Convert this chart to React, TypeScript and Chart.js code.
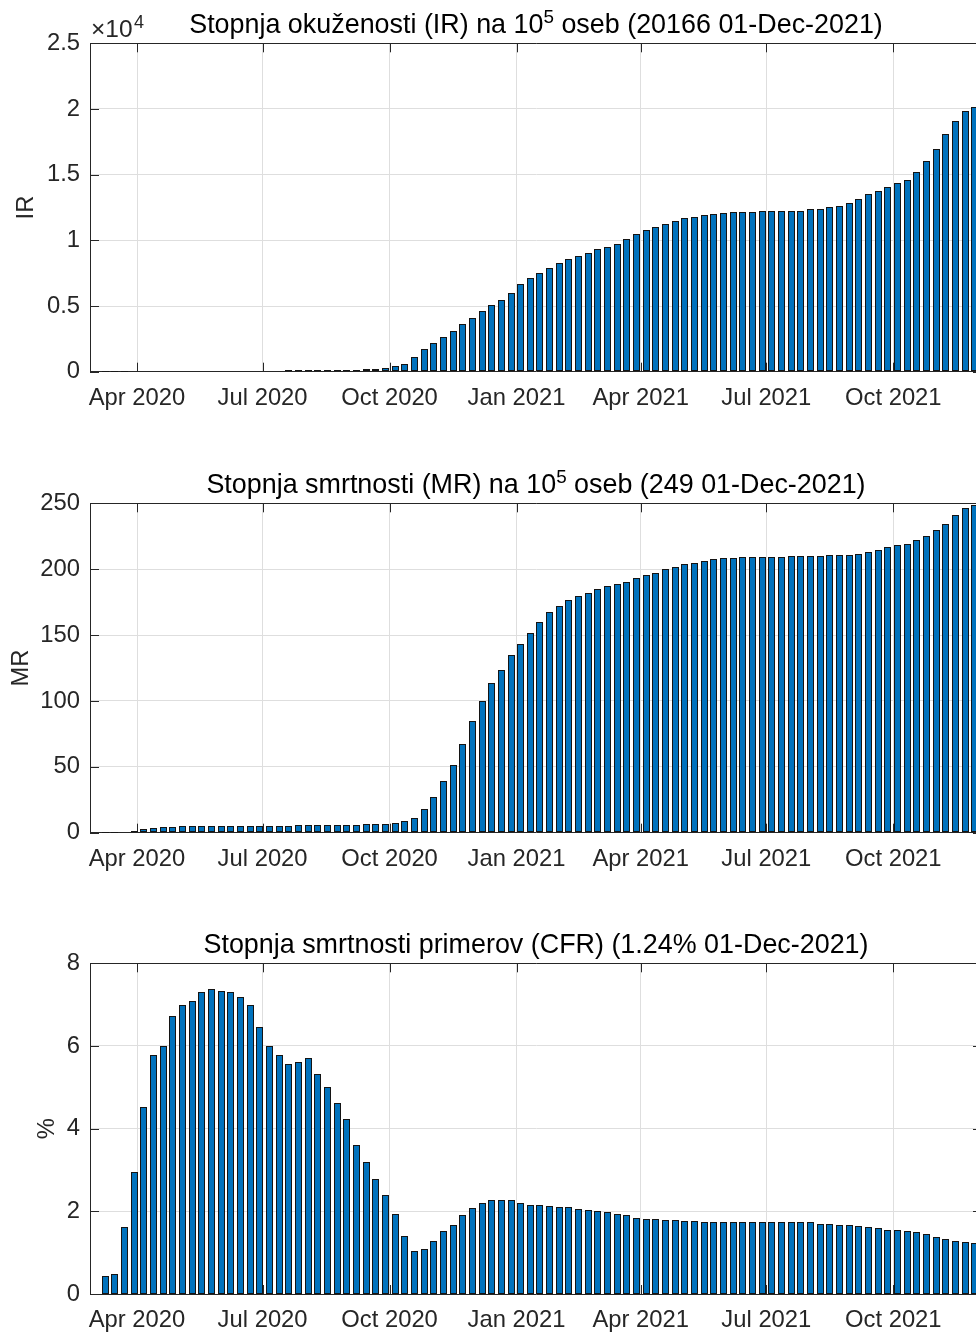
import React, { useEffect, useRef } from "react";
import { Chart, registerables } from "chart.js";

Chart.register(...registerables);

// ---------- data ----------
const weekDates = [
  "2020-03-09", "2020-03-16", "2020-03-23", "2020-03-30",
  "2020-04-06", "2020-04-13", "2020-04-20", "2020-04-27",
  "2020-05-04", "2020-05-11", "2020-05-18", "2020-05-25",
  "2020-06-01", "2020-06-08", "2020-06-15", "2020-06-22", "2020-06-29",
  "2020-07-06", "2020-07-13", "2020-07-20", "2020-07-27",
  "2020-08-03", "2020-08-10", "2020-08-17", "2020-08-24", "2020-08-31",
  "2020-09-07", "2020-09-14", "2020-09-21", "2020-09-28",
  "2020-10-05", "2020-10-12", "2020-10-19", "2020-10-26",
  "2020-11-02", "2020-11-09", "2020-11-16", "2020-11-23", "2020-11-30",
  "2020-12-07", "2020-12-14", "2020-12-21", "2020-12-28",
  "2021-01-04", "2021-01-11", "2021-01-18", "2021-01-25",
  "2021-02-01", "2021-02-08", "2021-02-15", "2021-02-22",
  "2021-03-01", "2021-03-08", "2021-03-15", "2021-03-22", "2021-03-29",
  "2021-04-05", "2021-04-12", "2021-04-19", "2021-04-26",
  "2021-05-03", "2021-05-10", "2021-05-17", "2021-05-24", "2021-05-31",
  "2021-06-07", "2021-06-14", "2021-06-21", "2021-06-28",
  "2021-07-05", "2021-07-12", "2021-07-19", "2021-07-26",
  "2021-08-02", "2021-08-09", "2021-08-16", "2021-08-23", "2021-08-30",
  "2021-09-06", "2021-09-13", "2021-09-20", "2021-09-27",
  "2021-10-04", "2021-10-11", "2021-10-18", "2021-10-25",
  "2021-11-01", "2021-11-08", "2021-11-15", "2021-11-22", "2021-11-29",
];

const irValues = [
  1, 6, 14, 22, 29, 34, 38, 40, 42, 43, 44, 44, 45, 45, 46, 48, 52, 57, 62,
  95, 100, 104, 108, 113, 120, 130, 150, 190, 230,
  300, 406, 584, 1142, 1700, 2183, 2640, 3122, 3604, 4061, 4594,
  5076, 5457, 6015, 6675, 7157, 7513, 7893, 8249, 8553, 8832,
  9010, 9314, 9492, 9746, 10127, 10482, 10787, 11040, 11243, 11446,
  11700, 11802, 11903, 12005, 12081, 12182, 12182, 12190, 12200, 12259,
  12259, 12265, 12270, 12360, 12365, 12538, 12639, 12842, 13121, 13502,
  13781, 14035, 14340, 14619, 15177, 16015, 16954, 18071, 19111, 19873,
  20166,
];

const mrValues = [
  0.01, 0.1, 0.4,
  1.3, 2.5, 3.3, 4.0, 4.1, 5.0,
  5.1, 5.1, 5.1, 5.2, 5.2, 5.2, 5.2, 5.2, 5.3, 5.3, 5.3,
  5.7, 5.7, 5.8, 5.8, 5.8, 5.9, 5.9,
  6.5, 6.6, 6.7,
  7.6, 8.6, 11.1, 17.7, 27.1, 39.2, 51.6, 67.3, 85.0, 100.2,
  113.3, 123.5, 134.6, 143.2, 151.5, 159.6, 167.2, 172.0, 176.6, 179.4,
  182.2, 185.2, 187.0, 188.7, 190.5, 193.5, 195.3, 197.1, 200.1, 201.9,
  203.7, 204.7, 206.4, 207.5, 208.2, 208.4, 209.2, 209.3, 209.4, 209.5,
  209.6, 210.0, 210.1, 210.2, 210.3, 210.4, 210.7, 210.9, 211.8, 212.8,
  214.5, 216.6, 218.3, 219.4, 222.1, 224.9, 229.7, 234.5, 240.9, 246.4,
  249,
];

const cfrValues = [
  0.43, 0.48, 1.62, 2.96, 4.53, 5.78, 5.99, 6.73, 7.0, 7.1,
  7.31, 7.39, 7.33, 7.31, 7.19, 7.0, 6.47, 5.99, 5.78, 5.57,
  5.61, 5.7, 5.31, 5.01, 4.62, 4.23, 3.6, 3.19, 2.77, 2.39,
  1.94, 1.41, 1.05, 1.08, 1.29, 1.52, 1.68, 1.92, 2.09, 2.19,
  2.27, 2.27, 2.27, 2.19, 2.15, 2.15, 2.12, 2.1, 2.1, 2.06,
  2.03, 2.0, 1.98, 1.94, 1.92, 1.85, 1.82, 1.82, 1.79, 1.79,
  1.77, 1.77, 1.73, 1.73, 1.73, 1.73, 1.73, 1.73, 1.73, 1.73,
  1.73, 1.73, 1.73, 1.73, 1.7, 1.7, 1.68, 1.68, 1.65, 1.61,
  1.59, 1.56, 1.56, 1.52, 1.5, 1.44, 1.38, 1.32, 1.29, 1.26,
  1.24,
];

const xTickDates = ["2020-04-01", "2020-07-01", "2020-10-01", "2021-01-01", "2021-04-01", "2021-07-01", "2021-10-01"];
const xTickLabels = ["Apr 2020", "Jul 2020", "Oct 2020", "Jan 2021", "Apr 2021", "Jul 2021", "Oct 2021"];

const irTicks = [0, 5000, 10000, 15000, 20000, 25000];
const irTickLabels = ["0", "0.5", "1", "1.5", "2", "2.5"];
const mrTicks = [0, 50, 100, 150, 200, 250];
const mrTickLabels = ["0", "50", "100", "150", "200", "250"];
const cfrTicks = [0, 2, 4, 6, 8];
const cfrTickLabels = ["0", "2", "4", "6", "8"];

// ---------- style ----------
const FONT = "'Liberation Sans', Arial, Helvetica, sans-serif";
const TEXT = "#262626";
const GRID = "#dedede";
const BAR = "#0072BD";
const EDGE = "#141414";
const TICK_SIZE = 23.8;
const TITLE_SIZE = 26.9;
const BAR_PX = 7;

const CANVAS_W = 1000;
const CANVAS_H = 460;

const dayNumber = (iso: string) =>
  (Date.parse(iso + "T00:00:00Z") - Date.parse("2020-01-01T00:00:00Z")) / 86400000;

const X_MIN = 56.94;
const X_MAX = 703.27;

type Panel = {
  values: number[];
  yTicks: number[];
  yTickLabels: string[];
  yLabel: string;
  yLabelX: number;
  titlePre: string;
  titleSup: string;
  titlePost: string;
  exponent: boolean;
  bottom: number;
  top: number;
};

const panels: Panel[] = [
  {
    values: irValues, yTicks: irTicks, yTickLabels: irTickLabels, yLabel: "IR", yLabelX: 33,
    titlePre: "Stopnja okuženosti (IR) na 10", titleSup: "5", titlePost: " oseb (20166 01-Dec-2021)",
    exponent: true, top: 0, bottom: 371.7,
  },
  {
    values: mrValues, yTicks: mrTicks, yTickLabels: mrTickLabels, yLabel: "MR", yLabelX: 28,
    titlePre: "Stopnja smrtnosti (MR) na 10", titleSup: "5", titlePost: " oseb (249 01-Dec-2021)",
    exponent: false, top: 460, bottom: 372.7,
  },
  {
    values: cfrValues, yTicks: cfrTicks, yTickLabels: cfrTickLabels, yLabel: "%", yLabelX: 54,
    titlePre: "Stopnja smrtnosti primerov (CFR) (1.24% 01-Dec-2021)", titleSup: "", titlePost: "",
    exponent: false, top: 920, bottom: 374,
  },
];

function PanelChart({ p }: { p: Panel }) {
  const ref = useRef<HTMLCanvasElement | null>(null);
  useEffect(() => {
    if (!ref.current) return;
    const frame = {
      id: "frame",
      afterDatasetsUpdate(chart: any) {
        // snap bars computed by the scales to whole device pixels (crisp edges)
        const meta = chart.getDatasetMeta(0);
        for (const el of meta.data) {
          const left = Math.round(el.x - BAR_PX / 2);
          el.x = left + BAR_PX / 2;
          el.width = BAR_PX;
          el.y = Math.round(el.y);
          el.base = Math.round(el.base);
        }
      },
      beforeDatasetsDraw(chart: any) {
        const { ctx, chartArea: a, scales } = chart;
        const x = scales.x, y = scales.y;
        ctx.save();
        ctx.strokeStyle = TEXT;
        ctx.lineWidth = 1;
        ctx.beginPath();
        for (const t of x.ticks) {
          const px = Math.round(x.getPixelForValue(t.value)) + 0.5;
          ctx.moveTo(px, a.bottom); ctx.lineTo(px, a.bottom - 9);
          ctx.moveTo(px, a.top); ctx.lineTo(px, a.top + 9);
        }
        for (const t of y.ticks) {
          const py = Math.round(y.getPixelForValue(t.value)) + 0.5;
          ctx.moveTo(a.left, py); ctx.lineTo(a.left + 9, py);
          ctx.moveTo(a.right, py); ctx.lineTo(a.right - 9, py);
        }
        const top = Math.round(a.top) + 0.5;
        const right = Math.round(a.right) + 0.5;
        ctx.moveTo(a.left, top); ctx.lineTo(right, top); ctx.lineTo(right, a.bottom);
        ctx.stroke();
        ctx.restore();
      },
      afterDraw(chart: any) {
        const { ctx, chartArea: a } = chart;
        ctx.save();
        // title
        ctx.fillStyle = "#000";
        ctx.textBaseline = "alphabetic";
        ctx.textAlign = "left";
        const mainFont = `${TITLE_SIZE}px ${FONT}`;
        const supFont = `${TITLE_SIZE * 0.7}px ${FONT}`;
        ctx.font = mainFont;
        const wPre = ctx.measureText(p.titlePre).width;
        const wPost = ctx.measureText(p.titlePost).width;
        ctx.font = supFont;
        const wSup = p.titleSup ? ctx.measureText(p.titleSup).width : 0;
        const total = wPre + wSup + wPost;
        let tx = (a.left + a.right) / 2 - total / 2;
        const base = 33.3;
        ctx.font = mainFont;
        ctx.fillText(p.titlePre, tx, base);
        tx += wPre;
        if (p.titleSup) {
          ctx.font = supFont;
          ctx.fillText(p.titleSup, tx, base - 10.6);
          tx += wSup;
        }
        ctx.font = mainFont;
        ctx.fillText(p.titlePost, tx, base);

        // exponent label
        ctx.fillStyle = TEXT;
        if (p.exponent) {
          ctx.font = `24.5px ${FONT}`;
          const s = "×10";
          ctx.fillText(s, 91, 36.5);
          const w = ctx.measureText(s).width;
          ctx.font = `18px ${FONT}`;
          ctx.fillText("4", 91 + w + 1.5, 27.5);
        }

        // y label
        ctx.font = `${TICK_SIZE}px ${FONT}`;
        ctx.translate(p.yLabelX, (a.top + a.bottom) / 2);
        ctx.rotate(-Math.PI / 2);
        ctx.textAlign = "center";
        ctx.textBaseline = "alphabetic";
        ctx.fillText(p.yLabel, 0, 0);
        ctx.restore();
      },
    };

    const chart = new Chart(ref.current, {
      type: "bar",
      data: {
        datasets: [
          {
            data: weekDates.map((d, i) => ({ x: dayNumber(d), y: p.values[i] })),
            backgroundColor: BAR,
            borderColor: EDGE,
            borderWidth: 1,
            borderSkipped: false,
            barPercentage: 0.7,
            categoryPercentage: 1,
          },
        ],
      },
      options: {
        animation: false,
        responsive: false,
        events: [],
        layout: {
          padding: { left: 0, right: CANVAS_W - 982, top: 43.3, bottom: CANVAS_H - 60 - p.bottom },
        },
        plugins: {
          legend: { display: false },
          tooltip: { enabled: false },
          title: { display: false },
        },
        scales: {
          x: {
            type: "linear",
            min: X_MIN,
            max: X_MAX,
            offset: false,
            afterBuildTicks: (s: any) => {
              s.ticks = xTickDates.map((d) => ({ value: dayNumber(d) }));
            },
            afterFit: (s: any) => {
              s.height = 60;
            },
            ticks: {
              autoSkip: false,
              maxRotation: 0,
              minRotation: 0,
              padding: 12,
              color: TEXT,
              font: { family: FONT, size: TICK_SIZE },
              callback: (_v: any, i: number) => xTickLabels[i],
            },
            grid: { color: GRID, drawTicks: false, lineWidth: 1, offset: false },
            border: { color: TEXT, width: 1 },
          },
          y: {
            type: "linear",
            min: p.yTicks[0],
            max: p.yTicks[p.yTicks.length - 1],
            afterBuildTicks: (s: any) => {
              s.ticks = p.yTicks.map((v) => ({ value: v }));
            },
            afterFit: (s: any) => {
              s.width = 90;
            },
            ticks: {
              padding: 10,
              color: TEXT,
              font: { family: FONT, size: TICK_SIZE },
              callback: (_v: any, i: number) => p.yTickLabels[i],
            },
            grid: { color: GRID, drawTicks: false, lineWidth: 1 },
            border: { color: TEXT, width: 1 },
          },
        },
      } as any,
      plugins: [frame],
    });
    return () => chart.destroy();
  }, [p]);

  return (
    <canvas
      ref={ref}
      width={CANVAS_W}
      height={CANVAS_H}
      style={{ position: "absolute", left: 0, top: p.top, width: CANVAS_W, height: CANVAS_H }}
    />
  );
}

export default function App() {
  return (
    <div
      style={{
        position: "fixed",
        left: 0,
        top: 0,
        width: 976,
        height: 1334,
        overflow: "hidden",
        background: "#fff",
      }}
    >
      {panels.map((p, i) => (
        <PanelChart key={i} p={p} />
      ))}
    </div>
  );
}
